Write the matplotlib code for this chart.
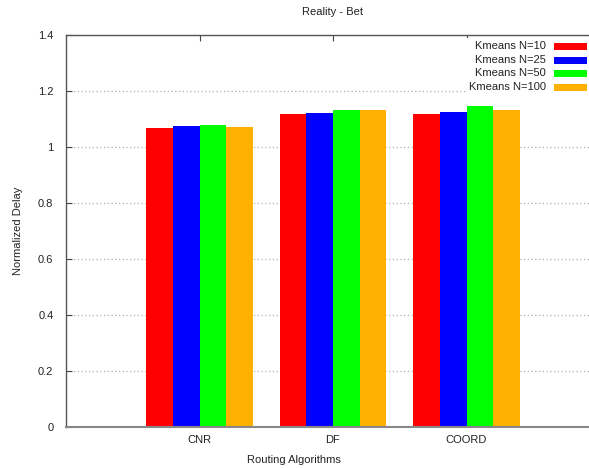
import matplotlib
matplotlib.use("Agg")
import matplotlib.pyplot as plt
from matplotlib.patches import Rectangle
import numpy as np

categories = ["CNR", "DF", "COORD"]
series_labels = ["Kmeans N=10", "Kmeans N=25", "Kmeans N=50", "Kmeans N=100"]
series_colors = ["#ff0000", "#0000ff", "#00ff00", "#ffb000"]
values_n10 = [1.067, 1.119, 1.118]
values_n25 = [1.075, 1.121, 1.124]
values_n50 = [1.080, 1.133, 1.146]
values_n100 = [1.073, 1.133, 1.131]
yticks = [0, 0.2, 0.4, 0.6, 0.8, 1, 1.2, 1.4]
ytick_labels = ["0", "0.2", "0.4", "0.6", "0.8", "1", "1.2", "1.4"]

plt.rcParams['font.family'] = ['Liberation Sans', 'DejaVu Sans']
plt.rcParams['font.size'] = 8

W, H = 589, 468
fig = plt.figure(figsize=(W / 100, H / 100), dpi=100)
ax = fig.add_axes([66 / W, 41 / H, 534 / W, 392 / H])

series = [values_n10, values_n25, values_n50, values_n100]
x = np.arange(1, len(categories) + 1)
bw = 0.2
for i, (vals, col) in enumerate(zip(series, series_colors)):
    ax.bar(x + (i - 1.5) * bw, vals, width=bw, color=col, edgecolor='none', zorder=3)

ax.set_xlim(0, 4)
ax.set_ylim(0, 1.4)
ax.set_xticks(x)
ax.set_xticklabels(categories)
ax.set_yticks(yticks)
ax.set_yticklabels(ytick_labels)
ax.tick_params(axis='both', direction='in', length=4, colors='#444444', labelcolor='#222222')
ax.tick_params(axis='y', pad=9, right=False)
ax.tick_params(axis='x', pad=6, top=True, bottom=True)
ax.yaxis.grid(True, linestyle=(0, (1, 2)), color='#b0b0b0', linewidth=0.9, zorder=0)
ax.set_axisbelow(True)
for s in ax.spines.values():
    s.set_color('#555555')
    s.set_linewidth(1.0)
ax.spines['bottom'].set_color('#888888')
ax.spines['bottom'].set_linewidth(1.5)
ax.spines['bottom'].set_zorder(4)

fig.text(332 / W, 1 - 12 / H, "Reality - Bet", ha='center', va='center',
         fontsize=8, color='#222222')
fig.text(18 / W, 1 - 231 / H, "Normalized Delay", ha='center', va='center',
         rotation=90, fontsize=8, color='#222222')
fig.text(294 / W, 1 - 460 / H, "Routing Algorithms", ha='center', va='center',
         fontsize=8, color='#222222')

# opaque legend area (hides grid behind the key)
bg = Rectangle((466 / W, 1 - 96 / H), (W - 466) / W, 58 / H,
               transform=fig.transFigure, facecolor='white',
               edgecolor='none', zorder=2.5)
bg.set_clip_on(False)
fig.add_artist(bg)

# legend (gnuplot style: text right-aligned, swatch on right)
row_y = [46, 60, 73.5, 87]
for lab, col, ry in zip(series_labels, series_colors, row_y):
    fig.text(546 / W, 1 - ry / H, lab, ha='right', va='center', fontsize=8,
             color='#222222', zorder=5)
    sw = Rectangle((554 / W, 1 - (ry + 3.5) / H), 33 / W, 7 / H,
                   transform=fig.transFigure, facecolor=col,
                   edgecolor='none', zorder=5)
    fig.add_artist(sw)

fig.savefig("out.png", dpi=100)
